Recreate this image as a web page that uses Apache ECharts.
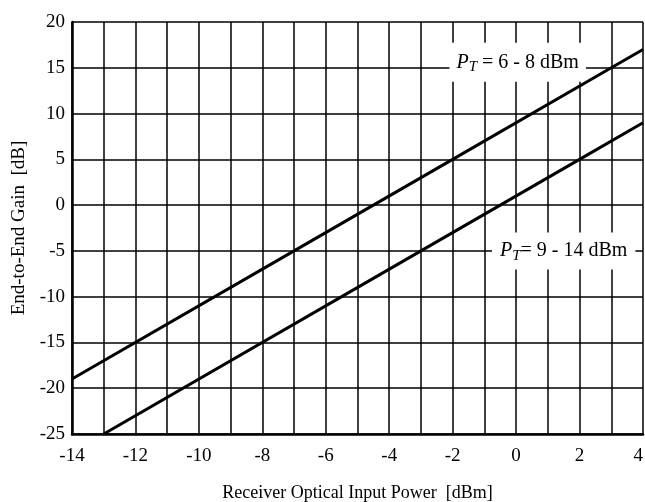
<!DOCTYPE html>
<html lang="en">
  <head>
    <meta charset="UTF-8" />
    <title>End-to-End Gain</title>
    <script src="https://cdn.jsdelivr.net/npm/echarts@6/dist/echarts.min.js"></script>
    <style>
      html, body { margin: 0; padding: 0; background: #fff; }
      .echarts { width: 645px; height: 502px; }
    </style>
  </head>
  <body>
    <div class="echarts"></div>
    <script>
      // points: [input power dBm, gain dB]
      const lowPower = [[-14, -19], [-7, -5], [-2, 5], [3, 15], [4, 17]]
      const highPower = [[-13, -25], [-3, -5], [-0.5, 0], [2, 5], [4, 9]]
      const lowLabelAt = [0.05, 15.6]
      const highLabelAt = [1.5, -5]

      const font = 'Liberation Serif'
      const myCharts = echarts.init(document.querySelector('.echarts'))

      // white boxed label "P_T = ..." sitting on the grid, under the lines
      const tag = (rest, at, pad) => ({
        symbol: 'rect',
        symbolSize: 1,
        z: 1,
        itemStyle: { color: 'rgba(0,0,0,0)' },
        data: [{
          coord: at,
          label: {
            show: true,
            position: 'inside',
            formatter: '{p|P}{t|T}{r|' + rest + '}',
            backgroundColor: '#fff',
            padding: pad,
            rich: {
              p: { fontFamily: font, fontStyle: 'italic', fontSize: 20, color: '#000' },
              t: { fontFamily: font, fontStyle: 'italic', fontSize: 15, color: '#000', padding: [10, 0, 0, 0] },
              r: { fontFamily: font, fontSize: 20, color: '#000' }
            }
          }
        }]
      })

      const option = {
        animation: false,
        grid: { left: 72, top: 22, right: 2, bottom: 68, outerBoundsMode: 'none' },
        xAxis: {
          type: 'value', min: -14, max: 4, interval: 1,
          name: 'Receiver Optical Input Power  [dBm]',
          nameLocation: 'middle', nameGap: 50,
          nameTextStyle: { fontFamily: font, fontSize: 18, color: '#000' },
          axisLine: { onZero: false, lineStyle: { color: '#000', width: 2.5 } },
          axisTick: { show: false },
          axisLabel: {
            fontFamily: font, fontSize: 19, color: '#000', margin: 13,
            alignMaxLabel: 'right',
            formatter: (v) => (v % 2 === 0 ? String(v) : '')
          },
          splitLine: { lineStyle: { color: '#000', width: 1.5 } }
        },
        yAxis: {
          type: 'value', min: -25, max: 20, interval: 5,
          name: 'End-to-End Gain  [dB]',
          nameLocation: 'middle', nameGap: 41,
          nameTextStyle: { fontFamily: font, fontSize: 19, color: '#000' },
          axisLine: { show: true, onZero: false, lineStyle: { color: '#000', width: 2.5 } },
          axisTick: { show: false },
          axisLabel: { fontFamily: font, fontSize: 19, color: '#000', margin: 7 },
          splitLine: { lineStyle: { color: '#000', width: 1.5 } }
        },
        series: [
          {
            type: 'line', data: lowPower, symbol: 'none', z: 3,
            lineStyle: { color: '#000', width: 3 },
            markPoint: tag(' = 6 - 8 dBm', lowLabelAt, [7, 7])
          },
          {
            type: 'line', data: highPower, symbol: 'none', z: 3,
            lineStyle: { color: '#000', width: 3 },
            markPoint: tag('= 9 - 14 dBm', highLabelAt, [6, 8])
          }
        ]
      }

      myCharts.setOption(option)
    </script>
  </body>
</html>
